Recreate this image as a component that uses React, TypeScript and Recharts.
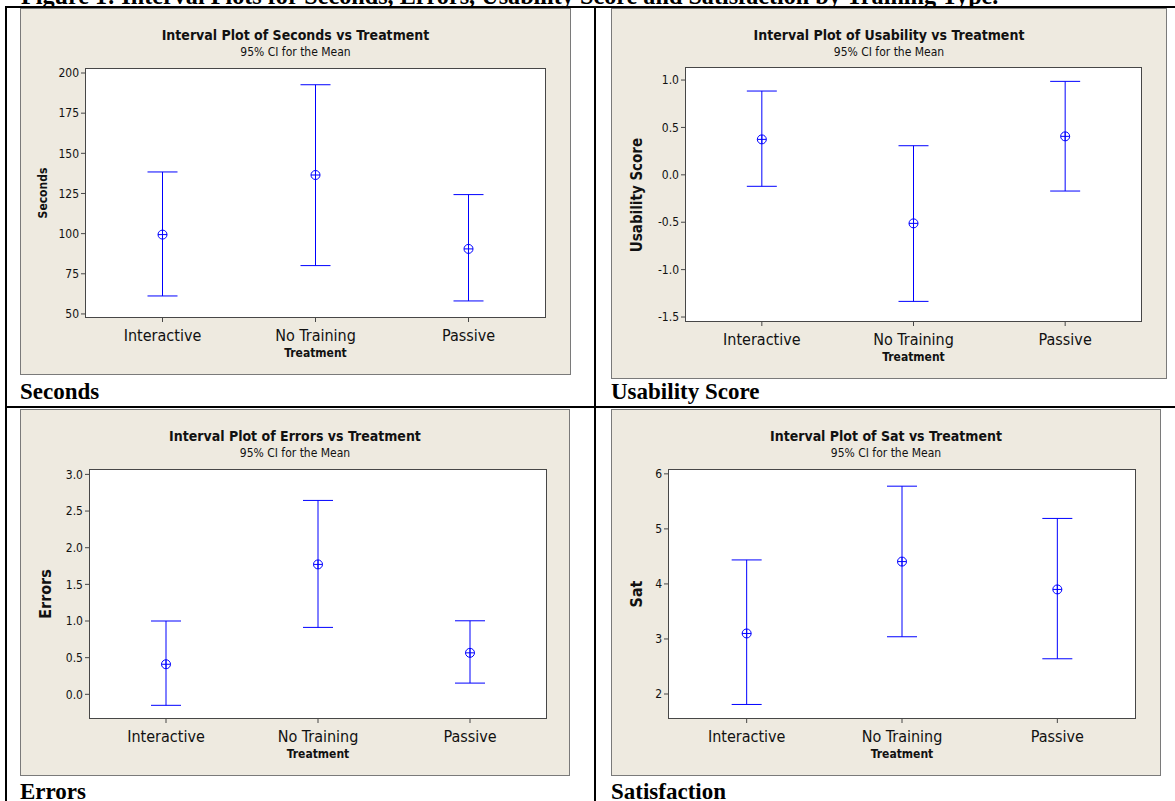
import { ComposedChart, Line, XAxis, YAxis, ErrorBar, CartesianGrid } from 'recharts';

const TREATMENTS = ['Interactive', 'No Training', 'Passive'];

const SECONDS_MEAN = [99.4, 136.5, 90.5];
const SECONDS_LOWER = [61.2, 80.1, 58.1];
const SECONDS_UPPER = [138.4, 192.7, 124.3];
const SECONDS_TICKS = [50, 75, 100, 125, 150, 175, 200];

const USABILITY_MEAN = [0.374, -0.512, 0.406];
const USABILITY_LOWER = [-0.121, -1.335, -0.171];
const USABILITY_UPPER = [0.884, 0.307, 0.986];
const USABILITY_TICKS = [-1.5, -1.0, -0.5, 0.0, 0.5, 1.0];

const ERRORS_MEAN = [0.41, 1.772, 0.566];
const ERRORS_LOWER = [-0.15, 0.913, 0.153];
const ERRORS_UPPER = [1.0, 2.645, 1.003];
const ERRORS_TICKS = [0.0, 0.5, 1.0, 1.5, 2.0, 2.5, 3.0];

const SAT_MEAN = [3.1, 4.406, 3.9];
const SAT_LOWER = [1.81, 3.04, 2.64];
const SAT_UPPER = [4.436, 5.776, 5.19];
const SAT_TICKS = [2, 3, 4, 5, 6];

const BLUE = '#0000ff';
const AXIS = '#474747';
const PANEL_BG = '#eeeae0';
const FONT = '"DejaVu Sans Condensed", "DejaVu Sans", sans-serif';
const SERIF = '"Liberation Serif", "Times New Roman", serif';

function buildRows(mean: number[], lower: number[], upper: number[]) {
  return TREATMENTS.map((name, i) => ({
    name,
    mean: mean[i],
    err: [mean[i] - lower[i], upper[i] - mean[i]],
  }));
}

const MeanDot = (props: any) => {
  const { cx, cy } = props;
  if (cx == null || cy == null) return null;
  const r = 4.5;
  return (
    <g>
      <circle cx={cx} cy={cy} r={r} fill="none" stroke={BLUE} strokeWidth={1} />
      <line x1={cx - r} x2={cx + r} y1={cy} y2={cy} stroke={BLUE} strokeWidth={1} />
      <line x1={cx} x2={cx} y1={cy - r} y2={cy + r} stroke={BLUE} strokeWidth={1} />
    </g>
  );
};

type PanelProps = {
  left: number;
  top: number;
  width: number;
  height: number;
  plot: { l: number; t: number; r: number; b: number };
  title: string;
  yLabel: string;
  yLabelSize: number;
  yLabelX: number;
  domain: [number, number];
  ticks: number[];
  decimals: number;
  rows: { name: string; mean: number; err: number[] }[];
};

function IntervalPanel(p: PanelProps) {
  const { plot } = p;
  const plotMidY = (plot.t + plot.b) / 2;
  const plotMidX = (plot.l + plot.r) / 2;
  return (
    <div
      style={{
        position: 'absolute',
        left: p.left,
        top: p.top,
        width: p.width,
        height: p.height,
        background: PANEL_BG,
        outline: '1px solid #7a7a7a',
        outlineOffset: -1,
        fontFamily: FONT,
        color: '#111',
      }}
    >
      <ComposedChart
        width={p.width}
        height={p.height}
        data={p.rows}
        margin={{ top: plot.t, right: p.width - plot.r, left: 0, bottom: 0 }}
      >
        <CartesianGrid horizontal={false} vertical={false} fill="#ffffff" />
        <XAxis
          dataKey="name"
          type="category"
          scale="band"
          height={p.height - plot.b}
          tickSize={5}
          tickMargin={8}
          axisLine={false}
          tickLine={{ stroke: AXIS }}
          tick={{ fill: '#111', fontSize: 16, fontFamily: FONT }}
          interval={0}
        />
        <YAxis
          type="number"
          domain={p.domain}
          allowDataOverflow
          ticks={p.ticks}
          width={plot.l}
          tickSize={5}
          tickMargin={2}
          axisLine={false}
          tickLine={{ stroke: AXIS }}
          tick={{ fill: '#111', fontSize: 12, fontFamily: FONT }}
          tickFormatter={(v: number) => v.toFixed(p.decimals)}
          interval={0}
        />
        <Line
          dataKey="mean"
          stroke="none"
          dot={<MeanDot />}
          activeDot={false}
          isAnimationActive={false}
          legendType="none"
        >
          <ErrorBar
            dataKey="err"
            direction="y"
            width={15}
            stroke={BLUE}
            strokeWidth={1}
            isAnimationActive={false}
          />
        </Line>
      </ComposedChart>

      {/* frame around the plotting region */}
      <div
        style={{
          position: 'absolute',
          left: plot.l - 1,
          top: plot.t - 1,
          width: plot.r - plot.l + 2,
          height: plot.b - plot.t + 2,
          border: `1px solid ${AXIS}`,
          boxSizing: 'border-box',
          pointerEvents: 'none',
        }}
      />

      <div
        style={{
          position: 'absolute',
          left: 0,
          width: p.width,
          top: 27 - 9,
          height: 18,
          lineHeight: '18px',
          textAlign: 'center',
          fontWeight: 'bold',
          fontSize: 14,
          whiteSpace: 'nowrap',
        }}
      >
        {p.title}
      </div>
      <div
        style={{
          position: 'absolute',
          left: 0,
          width: p.width,
          top: 44 - 8,
          height: 16,
          lineHeight: '16px',
          textAlign: 'center',
          fontSize: 12,
          whiteSpace: 'nowrap',
        }}
      >
        95% CI for the Mean
      </div>
      <div
        style={{
          position: 'absolute',
          left: plotMidX,
          top: p.height - 22,
          transform: 'translate(-50%, -50%)',
          fontWeight: 'bold',
          fontSize: 12,
          lineHeight: '14px',
          whiteSpace: 'nowrap',
        }}
      >
        Treatment
      </div>
      <div
        style={{
          position: 'absolute',
          left: p.yLabelX,
          top: plotMidY,
          transform: 'translate(-50%, -50%) rotate(-90deg)',
          fontWeight: 'bold',
          fontSize: p.yLabelSize,
          lineHeight: `${p.yLabelSize + 2}px`,
          whiteSpace: 'nowrap',
        }}
      >
        {p.yLabel}
      </div>
    </div>
  );
}

function Caption({ x, baseline, text }: { x: number; baseline: number; text: string }) {
  return (
    <div
      style={{
        position: 'absolute',
        left: x,
        top: baseline - 19,
        height: 23,
        lineHeight: '23px',
        fontFamily: SERIF,
        fontWeight: 'bold',
        fontSize: 23,
        whiteSpace: 'nowrap',
        color: '#000',
      }}
    >
      {text}
    </div>
  );
}

export default function App() {
  return (
    <div
      style={{
        position: 'absolute',
        left: 0,
        top: 0,
        width: 1175,
        height: 801,
        overflow: 'hidden',
        background: '#ffffff',
      }}
    >
      <div
        style={{
          position: 'absolute',
          left: 21,
          top: -16,
          height: 24,
          lineHeight: '24px',
          fontFamily: SERIF,
          fontWeight: 'bold',
          fontSize: 24.2,
          whiteSpace: 'nowrap',
          color: '#000',
        }}
      >
        Figure 1: Interval Plots for Seconds, Errors, Usability Score and Satisfaction by Training Type.
      </div>

      {/* table rules */}
      <div style={{ position: 'absolute', left: 5, top: 6, width: 1170, height: 2, background: '#000' }} />
      <div style={{ position: 'absolute', left: 5, top: 6, width: 2, height: 795, background: '#000' }} />
      <div style={{ position: 'absolute', left: 594, top: 6, width: 2, height: 795, background: '#000' }} />
      <div style={{ position: 'absolute', left: 5, top: 406, width: 1170, height: 2, background: '#000' }} />

      <IntervalPanel
        left={20}
        top={8}
        width={551}
        height={367}
        plot={{ l: 66, t: 61, r: 525, b: 309 }}
        title="Interval Plot of Seconds vs Treatment"
        yLabel="Seconds"
        yLabelSize={12}
        yLabelX={23}
        domain={[48.1, 202.5]}
        ticks={SECONDS_TICKS}
        decimals={0}
        rows={buildRows(SECONDS_MEAN, SECONDS_LOWER, SECONDS_UPPER)}
      />
      <IntervalPanel
        left={611}
        top={8}
        width={556}
        height={371}
        plot={{ l: 75, t: 60, r: 530, b: 313 }}
        title="Interval Plot of Usability vs Treatment"
        yLabel="Usability Score"
        yLabelSize={15}
        yLabelX={26}
        domain={[-1.542, 1.127]}
        ticks={USABILITY_TICKS}
        decimals={1}
        rows={buildRows(USABILITY_MEAN, USABILITY_LOWER, USABILITY_UPPER)}
      />
      <IntervalPanel
        left={20}
        top={409}
        width={550}
        height={367}
        plot={{ l: 70, t: 61, r: 526, b: 309 }}
        title="Interval Plot of Errors vs Treatment"
        yLabel="Errors"
        yLabelSize={16}
        yLabelX={26}
        domain={[-0.323, 3.06]}
        ticks={ERRORS_TICKS}
        decimals={1}
        rows={buildRows(ERRORS_MEAN, ERRORS_LOWER, ERRORS_UPPER)}
      />
      <IntervalPanel
        left={611}
        top={409}
        width={550}
        height={367}
        plot={{ l: 58, t: 61, r: 524, b: 309 }}
        title="Interval Plot of Sat vs Treatment"
        yLabel="Sat"
        yLabelSize={16}
        yLabelX={26}
        domain={[1.564, 6.07]}
        ticks={SAT_TICKS}
        decimals={0}
        rows={buildRows(SAT_MEAN, SAT_LOWER, SAT_UPPER)}
      />

      <Caption x={20} baseline={399} text="Seconds" />
      <Caption x={611} baseline={399} text="Usability Score" />
      <Caption x={20} baseline={799} text="Errors" />
      <Caption x={611} baseline={799} text="Satisfaction" />
    </div>
  );
}
